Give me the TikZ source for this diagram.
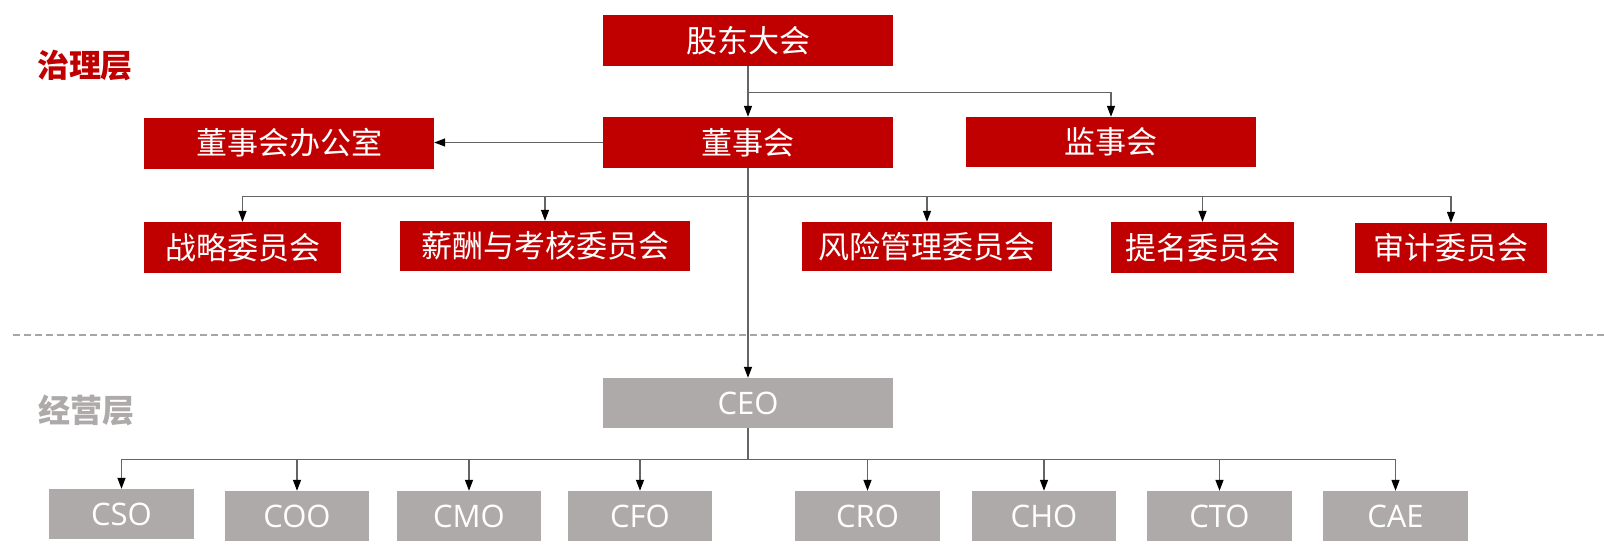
\documentclass[tikz,border=0pt]{standalone}
\usepackage{fontspec}
\setmainfont{Open Sans}
\newfontfamily\cjk{Noto Sans CJK SC}
\usetikzlibrary{arrows.meta}
\definecolor{cred}{RGB}{192,0,0}
\definecolor{cgray}{RGB}{174,170,170}
\definecolor{lgray}{RGB}{166,166,166}
\definecolor{lnc}{RGB}{100,100,100}
\begin{document}
\begin{tikzpicture}[x=1pt,y=-1pt,
  rbox/.style={fill=cred, text=white, inner sep=0pt, font=\cjk\fontsize{31}{31}\selectfont},
  gbox/.style={fill=cgray, text=white, inner sep=0pt, font=\fontsize{31}{31}\selectfont},
  conn/.style={draw=lnc, line width=1.3pt, -{Triangle[length=11pt,width=8pt,color=black]}},
  layer/.style={font=\cjk\bfseries\fontsize{32}{32}\selectfont},
  dashline/.style={draw=lgray, line width=2.5pt, dash pattern=on 7pt off 4pt}
]
\useasboundingbox (0,0) rectangle (1604,554);

% governance layer
\node[layer, text=cred] (zhili) at (85,66) {治理层};
\node[rbox, minimum width=290, minimum height=51] (gd) at (748,40.5) {股东大会};
\node[rbox, minimum width=290, minimum height=51] (ds) at (748,142.5) {董事会};
\node[rbox, minimum width=290, minimum height=50] (js) at (1111,142) {监事会};
\node[rbox, minimum width=290, minimum height=51] (bgs) at (289,143) {董事会办公室};
\node[rbox, minimum width=197, minimum height=51] (zl) at (242.5,247.5) {战略委员会};
\node[rbox, minimum width=290, minimum height=50] (xc) at (545,246) {薪酬与考核委员会};
\node[rbox, minimum width=250, minimum height=49] (fx) at (927,246.5) {风险管理委员会};
\node[rbox, minimum width=183, minimum height=51] (tm) at (1202.5,247.5) {提名委员会};
\node[rbox, minimum width=192, minimum height=50] (sj) at (1451,248) {审计委员会};

% separator
\draw[dashline] (13,335) -- (1604,335);

% management layer
\node[layer, text=cgray] (jy) at (86,410) {经营层};
\node[gbox, minimum width=290, minimum height=50] (ceo) at (748,403) {CEO};
\node[gbox, minimum width=145, minimum height=50] (cso) at (121.5,514) {CSO};
\node[gbox, minimum width=144, minimum height=50] (coo) at (297,516) {COO};
\node[gbox, minimum width=144, minimum height=50] (cmo) at (469,516) {CMO};
\node[gbox, minimum width=144, minimum height=50] (cfo) at (640,516) {CFO};
\node[gbox, minimum width=145, minimum height=50] (cro) at (867.5,516) {CRO};
\node[gbox, minimum width=144, minimum height=50] (cho) at (1044,516) {CHO};
\node[gbox, minimum width=145, minimum height=50] (cto) at (1219.5,516) {CTO};
\node[gbox, minimum width=145, minimum height=50] (cae) at (1395.5,516) {CAE};

% connectors
\draw[conn] (gd.south) -- (ds.north);
\draw[conn] (gd.south) -- ++(0,26) -| (js.north);
\draw[conn] (ds.west) -- (ds.west -| bgs.east);
\foreach \t in {zl,xc,fx,tm,sj}
  \draw[conn] (ds.south) -- ++(0,28) -| (\t.north);
\draw[conn] (ds.south) -- (ceo.north);
\foreach \t in {cso,coo,cmo,cfo,cro,cho,cto,cae}
  \draw[conn] (ceo.south) -- ++(0,31) -| (\t.north);
\end{tikzpicture}
\end{document}
